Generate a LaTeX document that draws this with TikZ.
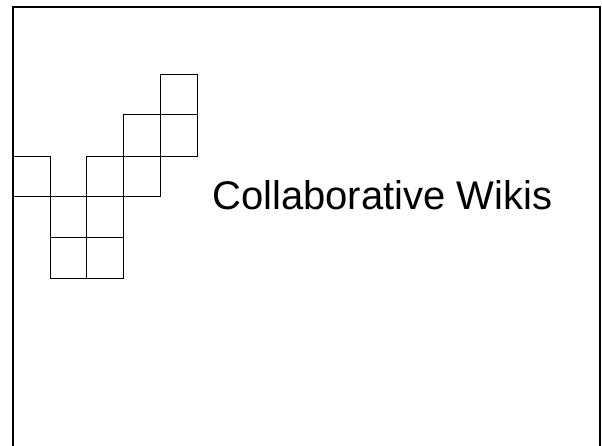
\documentclass[tikz,border=0pt]{standalone}
\usepackage{fontspec}
\setmainfont{Liberation Sans}
\begin{document}
\begin{tikzpicture}[x=1pt,y=-1pt,
  cell/.style={draw=black,line width=0.9pt},
  frame/.style={draw=black,line width=2pt}]
\useasboundingbox (0,0) rectangle (602,445);
\clip (0,0) rectangle (602,445);
\fill[white] (0,0) rectangle (602,445);
\draw[frame] (13,460) -- (13,7) -- (600,7) -- (600,460);
% grid columns x: 13,50,86,123,160,197 ; rows y: 74,114,156,196,237,278
\foreach \xa/\xb/\ya/\yb in {160/197/74/114, 123/160/114/156, 160/197/114/156,
  13/50/156/196, 86/123/156/196, 123/160/156/196,
  50/86/196/237, 86/123/196/237, 50/86/237/278, 86/123/237/278}
  \draw[cell] (\xa,\ya) rectangle (\xb,\yb);
\node[anchor=base west,inner sep=0pt,font=\fontsize{40}{48}\selectfont] (title) at (212,209) {Collaborative Wikis};
\end{tikzpicture}
\end{document}
